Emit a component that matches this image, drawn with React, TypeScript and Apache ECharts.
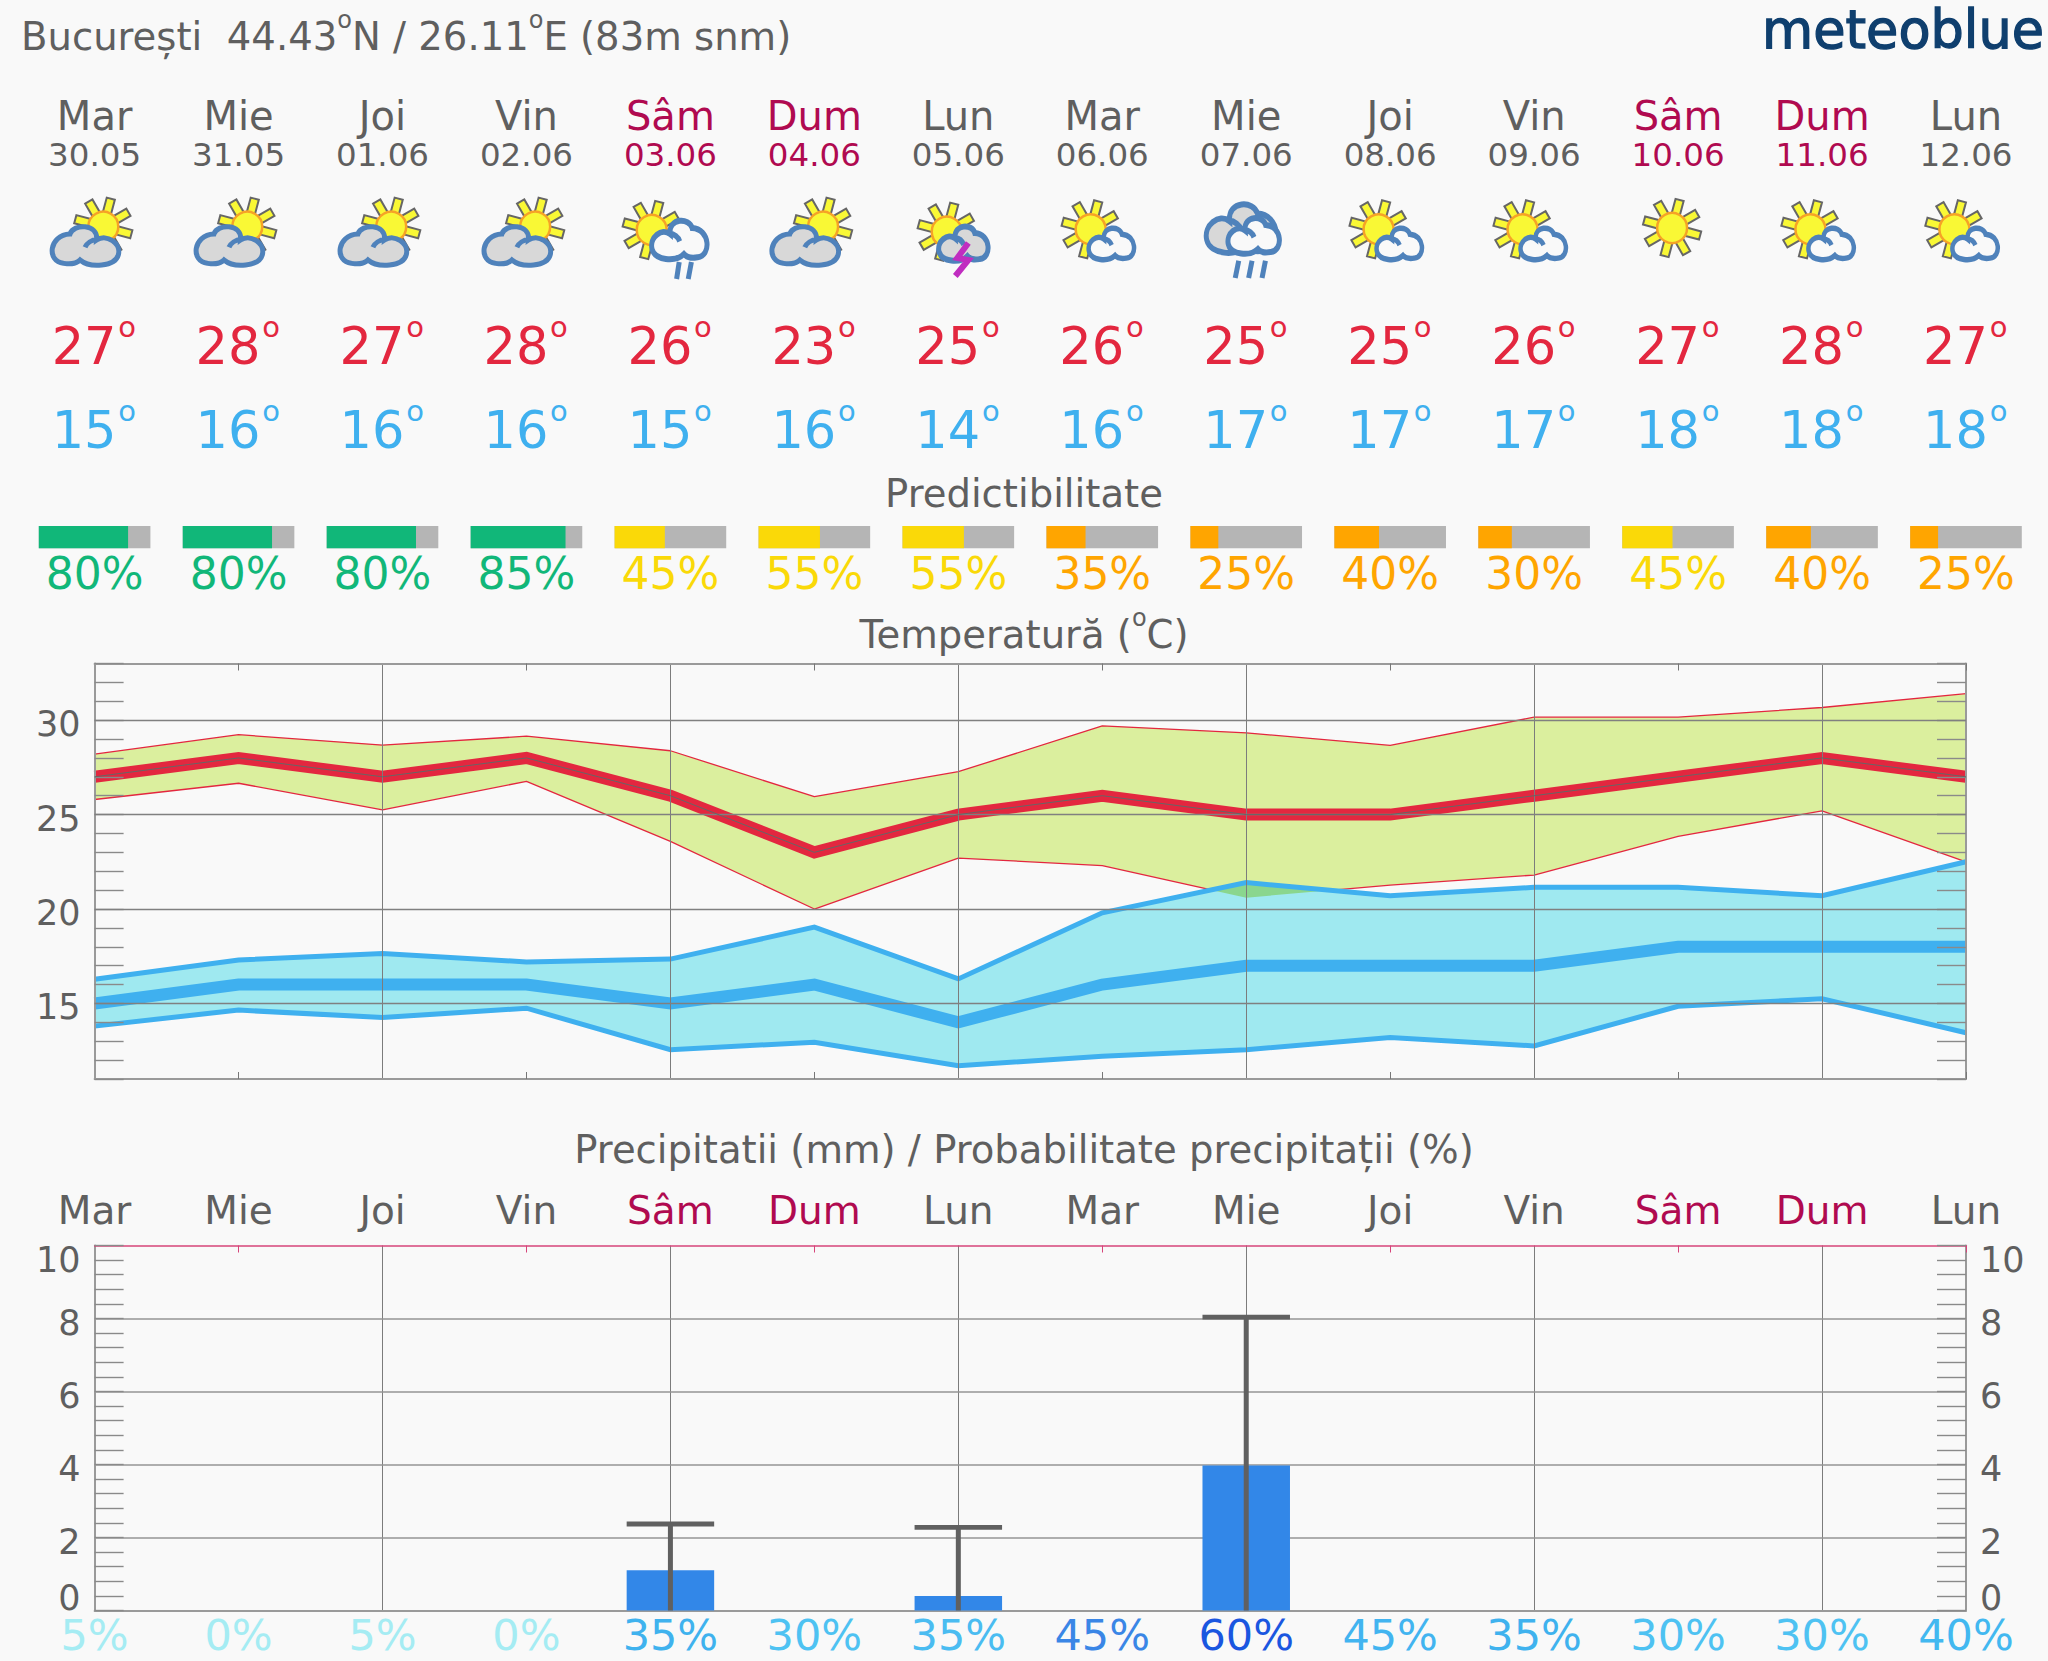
import React, { useEffect, useRef } from "react";
import * as echarts from "echarts";

const FONT = "DejaVu Sans";
const GREY = "#5f5f5f";
const WEEKEND = "#b00a50";
const RED = "#e3273f";
const BLUE = "#3fb0ef";
const BG = "#f9f9f9";

const dayNames = ["Mar", "Mie", "Joi", "Vin", "Sâm", "Dum", "Lun", "Mar", "Mie", "Joi", "Vin", "Sâm", "Dum", "Lun"];
const dates = ["30.05", "31.05", "01.06", "02.06", "03.06", "04.06", "05.06", "06.06", "07.06", "08.06", "09.06", "10.06", "11.06", "12.06"];
const weekend = [0, 0, 0, 0, 1, 1, 0, 0, 0, 0, 0, 1, 1, 0];
const iconTypes = ["A", "A", "A", "A", "B", "A", "C", "D", "E", "D", "D", "S", "D", "D"];

const maxTemp = [27, 28, 27, 28, 26, 23, 25, 26, 25, 25, 26, 27, 28, 27];
const minTemp = [15, 16, 16, 16, 15, 16, 14, 16, 17, 17, 17, 18, 18, 18];

const predictability = [80, 80, 80, 85, 45, 55, 55, 35, 25, 40, 30, 45, 40, 25];

const warmHigh = [28.2, 29.23, 28.68, 29.15, 28.38, 25.95, 27.27, 29.7, 29.33, 28.66, 30.16, 30.16, 30.67, 31.4];
const warmLow = [25.8, 26.66, 25.25, 26.76, 23.58, 20.0, 22.7, 22.3, 20.6, 21.27, 21.8, 23.85, 25.2, 22.5];
const coldHigh = [16.28, 17.3, 17.65, 17.2, 17.35, 19.04, 16.3, 19.8, 21.4, 20.7, 21.15, 21.15, 20.7, 22.5];
const coldLow = [13.8, 14.65, 14.25, 14.75, 12.55, 12.95, 11.7, 12.2, 12.55, 13.2, 12.75, 14.85, 15.25, 13.45];

const precipitation = [0, 0, 0, 0, 1.1, 0, 0.4, 0, 3.97, 0, 0, 0, 0, 0];
const precipitationMax = [0, 0, 0, 0, 2.37, 0, 2.28, 0, 8.04, 0, 0, 0, 0, 0];
const precipProb = ["5%", "0%", "5%", "0%", "35%", "30%", "35%", "45%", "60%", "45%", "35%", "30%", "30%", "40%"];
const precipProbColors = ["#a5ecf3", "#a5ecf3", "#a5ecf3", "#a5ecf3", "#3fb2ee", "#4ec2f2", "#4abcf1", "#3a86e6", "#1a56e0", "#42b4f0", "#3fb2ee", "#4ec2f2", "#4ec2f2", "#42b8f0"];

const tempGridLines = [15, 20, 25, 30];
const precipGridLines = [2, 4, 6, 8];

const PLOT_LEFT = 94.6;
const PLOT_RIGHT_GAP = 82;

const CLOUD_D =
  "M -65 52 C -115 47 -110 -33 -45 -36 C -35 -68 40 -68 35 -18 C 65 -38 110 -8 100 27 C 90 62 15 67 -15 42 C -30 57 -50 54 -65 52 Z M 37 -20 C 20 -18 5 -8 0 4";
echarts.graphic.registerShape("cloudIcon", echarts.graphic.extendPath(CLOUD_D as any, {}) as any);

const predColor = (p: number) => (p >= 60 ? "#11b779" : p >= 45 ? "#fad908" : "#ffa500");
const dayColor = (i: number) => (weekend[i] ? WEEKEND : GREY);

function sun(dx: number, y: number) {
  const children: any[] = [];
  [-120, -75, -30, 15, 60, 105, 150, 195].forEach((deg) => {
    const a = (deg * Math.PI) / 180;
    const c = Math.cos(a), s = Math.sin(a);
    const w = 4.2, r0 = 13, r1 = 29;
    children.push({
      type: "polygon",
      shape: {
        points: [
          [dx + c * r0 - s * w, y + s * r0 + c * w],
          [dx + c * r1 - s * w, y + s * r1 + c * w],
          [dx + c * r1 + s * w, y + s * r1 - c * w],
          [dx + c * r0 + s * w, y + s * r0 - c * w],
        ],
      },
      style: { fill: "#f9f835", stroke: "#666666", lineWidth: 2 },
    });
  });
  children.push({
    type: "circle",
    shape: { cx: dx, cy: y, r: 15 },
    style: { fill: "#f9f835", stroke: "#f6a326", lineWidth: 2.5 },
  });
  return children;
}

function cloud(dx: number, y: number, scale: number, fill: string, mirror: boolean, px = 4.5, yFactor = 1.2) {
  const s = scale / 3;
  return {
    type: "cloudIcon",
    x: dx,
    y,
    scaleX: mirror ? -s : s,
    scaleY: s * yFactor,
    style: { fill, stroke: "#4f82bb", lineWidth: px / s },
  };
}

function strokes(segs: number[][], color: string, w: number) {
  return segs.map((p) => ({
    type: "line",
    shape: { x1: p[0], y1: p[1], x2: p[2], y2: p[3] },
    style: { stroke: color, lineWidth: w },
  }));
}

function iconChildren(type: string): any[] {
  const LIGHT = "#d8d8d8";
  switch (type) {
    case "A":
      return [...sun(8.7, 226.7), cloud(-9.6, 246, 1, LIGHT, false, 5, 1)];
    case "B":
      return [
        ...sun(-18.7, 230),
        cloud(9.3, 240, 0.83, BG, true, 5),
        ...strokes([[8.8, 262, 6.2, 279], [21, 262, 17.8, 279]], "#4f82bb", 5),
      ];
    case "C":
      return [
        ...sun(-11.6, 231.7),
        cloud(5.4, 243.7, 0.74, LIGHT, true, 5),
        {
          type: "polyline",
          shape: { points: [[10, 243], [-1, 258], [10, 260], [-3, 276]] },
          style: { stroke: "#c02dc0", lineWidth: 6, fill: "none" },
        },
      ];
    case "D":
      return [...sun(-11.6, 229.3), cloud(9.4, 244, 0.68, BG, true, 4.5)];
    case "E":
      return [
        cloud(-4.5, 228.7, 1.05, LIGHT, true, 5),
        cloud(7.8, 236, 0.77, BG, true, 5),
        ...strokes([[-7.5, 260.7, -11, 278], [5.8, 260.7, 2.4, 278], [19.2, 260.7, 15.8, 278]], "#4f82bb", 5),
      ];
    default:
      return sun(-6, 228);
  }
}

function txt(x: number, y: number, text: string, fontSize: number, fill: string, align = "center") {
  return {
    type: "text",
    x,
    y,
    style: { text, fontSize, fontFamily: FONT, fill, align, verticalAlign: "middle" },
  };
}

function buildOption(): any {
  const cats = dayNames.map((_, i) => String(i));
  const xBase = {
    type: "category",
    boundaryGap: false,
    data: cats,
    z: 6,
    axisLabel: { show: false },
    axisLine: { show: true, onZero: false, lineStyle: { color: "#9a9a9a", width: 2 } },
    axisTick: { show: true, inside: true, length: 7, interval: (i: number) => i % 2 === 1, lineStyle: { color: "#777777", width: 1 } },
  };
  const vertical = {
    show: true,
    interval: (i: number) => i % 2 === 0 && i > 0,
    lineStyle: { color: "#7c7c7c", width: 1 },
  };
  const shiftedLabel = (v: number, low: number, high: number) => {
    const r = Math.round(v * 10) / 10;
    if (r === low) return `{bot|${r}}`;
    if (r === high) return `{top|${r}}`;
    return `{mid|${r}}`;
  };
  const rich = (fontSize: number) => ({
    mid: { fontSize, fontFamily: FONT, color: GREY, padding: [8, 0, 0, 0] },
    top: { fontSize, fontFamily: FONT, color: GREY, lineHeight: 28 },
    bot: { fontSize, fontFamily: FONT, color: GREY, lineHeight: 26 },
  });
  const yBase = {
    type: "value",
    z: 6,
    splitLine: { show: false },
    axisLine: { show: true, lineStyle: { color: "#9a9a9a", width: 2 } },
    axisTick: { show: true, inside: true, length: 29, lineStyle: { color: "#8a8a8a", width: 1.4 } },
  };
  const tempFormatter = (v: number) => (v % 5 === 0 ? `{mid|${v}}` : "");
  const precipFormatter = (v: number) => {
    const r = Math.round(v * 10) / 10;
    return r % 2 === 0 ? shiftedLabel(r, 0, 10) : "";
  };
  const precipLabel = {
    show: true,
    margin: 14,
    formatter: precipFormatter,
    rich: rich(35),
    verticalAlignMinLabel: "bottom",
    verticalAlignMaxLabel: "top",
  };

  const series: any[] = [
    {
      type: "line", xAxisIndex: 0, yAxisIndex: 0, stack: "warm", data: warmLow, symbol: "none", z: 2,
      lineStyle: { width: 0 }, silent: true,
    },
    {
      type: "line", xAxisIndex: 0, yAxisIndex: 0, stack: "warm", data: warmHigh.map((v, i) => v - warmLow[i]), symbol: "none", z: 2,
      lineStyle: { width: 0 }, areaStyle: { color: "#dbef9e", opacity: 1 }, silent: true,
    },
    { type: "line", xAxisIndex: 0, yAxisIndex: 0, data: warmHigh, symbol: "none", z: 2, lineStyle: { color: RED, width: 1.3 }, silent: true },
    { type: "line", xAxisIndex: 0, yAxisIndex: 0, data: warmLow, symbol: "none", z: 2, lineStyle: { color: RED, width: 1.3 }, silent: true },
    {
      type: "line", xAxisIndex: 0, yAxisIndex: 0, stack: "cold", data: coldLow, symbol: "none", z: 3,
      lineStyle: { width: 0 }, silent: true,
    },
    {
      type: "line", xAxisIndex: 0, yAxisIndex: 0, stack: "cold", data: coldHigh.map((v, i) => v - coldLow[i]), symbol: "none", z: 3,
      lineStyle: { width: 0 }, areaStyle: { color: "#9fe9f0", opacity: 1 }, silent: true,
    },
    {
      type: "custom", xAxisIndex: 0, yAxisIndex: 0, z: 3, silent: true,
      data: warmLow.slice(0, -1).map((_, i) => [i]),
      renderItem: (_p: any, api: any) => {
        const i = api.value(0);
        const a = coldHigh[i] - warmLow[i];
        const b = coldHigh[i + 1] - warmLow[i + 1];
        if (a <= 0 && b <= 0) return null;
        const l0 = api.coord([i, warmLow[i]]);
        const l1 = api.coord([i + 1, warmLow[i + 1]]);
        const h0 = api.coord([i, coldHigh[i]]);
        const h1 = api.coord([i + 1, coldHigh[i + 1]]);
        const t = a === b ? 0 : a / (a - b);
        const cross = [l0[0] + t * (l1[0] - l0[0]), l0[1] + t * (l1[1] - l0[1])];
        const pts: number[][] = [];
        if (a > 0) pts.push(l0, h0);
        else pts.push(cross);
        if (b > 0) pts.push(h1, l1);
        else pts.push(cross);
        return { type: "polygon", shape: { points: pts }, style: { fill: "#8ad68e" } };
      },
    },
    { type: "line", xAxisIndex: 0, yAxisIndex: 0, data: coldHigh, symbol: "none", z: 4, lineStyle: { color: BLUE, width: 5, join: "miter" }, silent: true },
    { type: "line", xAxisIndex: 0, yAxisIndex: 0, data: coldLow, symbol: "none", z: 4, lineStyle: { color: BLUE, width: 5, join: "miter" }, silent: true },
    { type: "line", xAxisIndex: 0, yAxisIndex: 0, data: minTemp, symbol: "none", z: 4, lineStyle: { color: BLUE, width: 12, join: "miter" }, silent: true },
    { type: "line", xAxisIndex: 0, yAxisIndex: 0, data: maxTemp, symbol: "none", z: 4, lineStyle: { color: RED, width: 12, join: "miter" }, silent: true },
    {
      type: "line", xAxisIndex: 0, yAxisIndex: 0, data: maxTemp, symbol: "none", z: 7, lineStyle: { color: "#666666", width: 1 }, silent: true,
      markLine: {
        silent: true, symbol: ["none", "none"], z: 7, label: { show: false },
        lineStyle: { color: "#808080", width: 1.4, type: "solid" },
        data: tempGridLines.map((v) => ({ yAxis: v })),
      },
    },
    {
      type: "bar", xAxisIndex: 2, yAxisIndex: 2, data: precipitation, barWidth: 87.5, z: 3, silent: true,
      itemStyle: { color: "#3287e8" },
      markLine: {
        silent: true, symbol: ["none", "none"], z: 1, label: { show: false },
        lineStyle: { color: "#949494", width: 1.6, type: "solid" },
        data: precipGridLines.map((v) => ({ yAxis: v })),
      },
    },
    {
      type: "custom", xAxisIndex: 2, yAxisIndex: 2, z: 7, silent: true,
      data: precipitationMax.map((v, i) => [i, v]),
      renderItem: (_p: any, api: any) => {
        const top = api.value(1);
        if (!top) return null;
        const i = api.value(0);
        const a = api.coord([i, top]);
        const b = api.coord([i, 0]);
        return {
          type: "group",
          children: [
            { type: "line", shape: { x1: a[0], y1: a[1], x2: b[0], y2: b[1] }, style: { stroke: "#606060", lineWidth: 5 } },
            { type: "rect", shape: { x: a[0] - 43.75, y: a[1] - 2.4, width: 87.5, height: 4.8 }, style: { fill: "#606060" } },
          ],
        };
      },
    },
    {
      type: "custom", xAxisIndex: 4, yAxisIndex: 4, z: 3, silent: true,
      data: dayNames.map((_, i) => [i]),
      renderItem: (_p: any, api: any) => {
        const i = api.value(0);
        const cx = api.coord([i, 0])[0];
        const p = predictability[i];
        const W = 111.6;
        const split = (W * p) / 100;
        const hi = String(maxTemp[i]);
        const lo = String(minTemp[i]);
        return {
          type: "group",
          children: [
            txt(cx, 115.5, dayNames[i], 40, dayColor(i)),
            txt(cx, 155, dates[i], 32.5, dayColor(i)),
            { type: "group", x: cx, y: 0, children: iconChildren(iconTypes[i]) },
            txt(cx - 10.5, 346, hi, 51, RED),
            txt(cx + 32.5, 327, "o", 29, RED),
            txt(cx - 10.5, 430, lo, 51, BLUE),
            txt(cx + 32.5, 411, "o", 29, BLUE),
            { type: "rect", shape: { x: cx - W / 2, y: 526, width: W, height: 22.3 }, style: { fill: "#b5b5b5" } },
            { type: "rect", shape: { x: cx - W / 2, y: 526, width: split, height: 22.3 }, style: { fill: predColor(p) } },
            txt(cx, 573.6, `${p}%`, 44, predColor(p)),
          ],
        };
      },
    },
  ];

  const superO = { fontSize: 24, fontFamily: FONT, fill: GREY, verticalAlign: "top", lineHeight: 24 };
  const base = { fontSize: 38.6, fontFamily: FONT, fill: GREY, lineHeight: 56 };

  return {
    animation: false,
    backgroundColor: BG,
    grid: [
      { left: PLOT_LEFT, right: PLOT_RIGHT_GAP, top: 663.5, height: 415.5 },
      { left: PLOT_LEFT, right: PLOT_RIGHT_GAP, top: 1245.5, height: 365 },
      { left: PLOT_LEFT, right: PLOT_RIGHT_GAP, top: 0, height: 1661 },
    ],
    xAxis: [
      { ...xBase, gridIndex: 0, position: "bottom", splitLine: vertical },
      { ...xBase, gridIndex: 0, position: "top", splitLine: { show: false } },
      {
        ...xBase,
        gridIndex: 1,
        position: "bottom",
        z: 1,
        data: precipProb.map((value, i) => ({ value, textStyle: { color: precipProbColors[i] } })),
        axisTick: { show: false },
        splitLine: { ...vertical },
        axisLabel: { show: true, interval: 0, margin: 3, fontSize: 43, lineHeight: 43, fontFamily: FONT },
      },
      {
        ...xBase,
        gridIndex: 1,
        position: "top",
        data: dayNames.map((value, i) => ({ value, textStyle: { color: dayColor(i) } })),
        axisLine: { show: true, onZero: false, lineStyle: { color: "#d6457a", width: 1.5 } },
        axisTick: { show: true, inside: true, length: 7, interval: (i: number) => i % 2 === 1, lineStyle: { color: "#d6457a", width: 1 } },
        splitLine: { show: false },
        axisLabel: { show: true, interval: 0, margin: 16, fontSize: 39, fontFamily: FONT },
      },
      { type: "value", gridIndex: 2, min: 0, max: 13, show: false },
    ],
    yAxis: [
      { ...yBase, gridIndex: 0, min: 11, max: 33, interval: 1, position: "left", axisLabel: { show: true, margin: 14, formatter: tempFormatter, rich: rich(35) } },
      { ...yBase, gridIndex: 0, min: 11, max: 33, interval: 1, position: "right", axisLabel: { show: false } },
      { ...yBase, gridIndex: 1, z: 6, min: 0, max: 10, interval: 0.4, position: "left", axisLabel: precipLabel },
      { ...yBase, gridIndex: 1, z: 6, min: 0, max: 10, interval: 0.4, position: "right", axisLabel: precipLabel },
      { type: "value", gridIndex: 2, min: 0, max: 1, show: false },
    ],
    series,
    graphic: [
      {
        type: "text", x: 21, y: 36,
        style: {
          text: "{a|București  44.43}{s|o}{a|N / 26.11}{s|o}{a|E (83m snm)}",
          verticalAlign: "middle",
          rich: { a: base, s: superO },
        },
      },
      {
        type: "text", x: 2044, y: 29,
        style: { text: "meteoblue", fontSize: 52.5, fontFamily: FONT, fill: "#0f3f6e", stroke: "#0f3f6e", lineWidth: 1.3, align: "right", verticalAlign: "middle" },
      },
      {
        type: "text", x: 1024, y: 493,
        style: { text: "Predictibilitate", fontSize: 38.6, fontFamily: FONT, fill: GREY, align: "center", verticalAlign: "middle" },
      },
      {
        type: "text", x: 1024, y: 634,
        style: {
          text: "{a|Temperatură (}{s|o}{a|C)}",
          align: "center",
          verticalAlign: "middle",
          rich: { a: base, s: superO },
        },
      },
      {
        type: "text", x: 1024, y: 1149,
        style: { text: "Precipitatii (mm) / Probabilitate precipitații (%)", fontSize: 38.6, fontFamily: FONT, fill: GREY, align: "center", verticalAlign: "middle" },
      },
    ],
  };
}

export default function App() {
  const ref = useRef<HTMLDivElement>(null);
  useEffect(() => {
    document.body.style.margin = "0";
    const chart = echarts.init(ref.current!, undefined, { renderer: "svg" });
    chart.setOption(buildOption());
    return () => chart.dispose();
  }, []);
  return <div ref={ref} style={{ width: 2048, height: 1661 }} />;
}
